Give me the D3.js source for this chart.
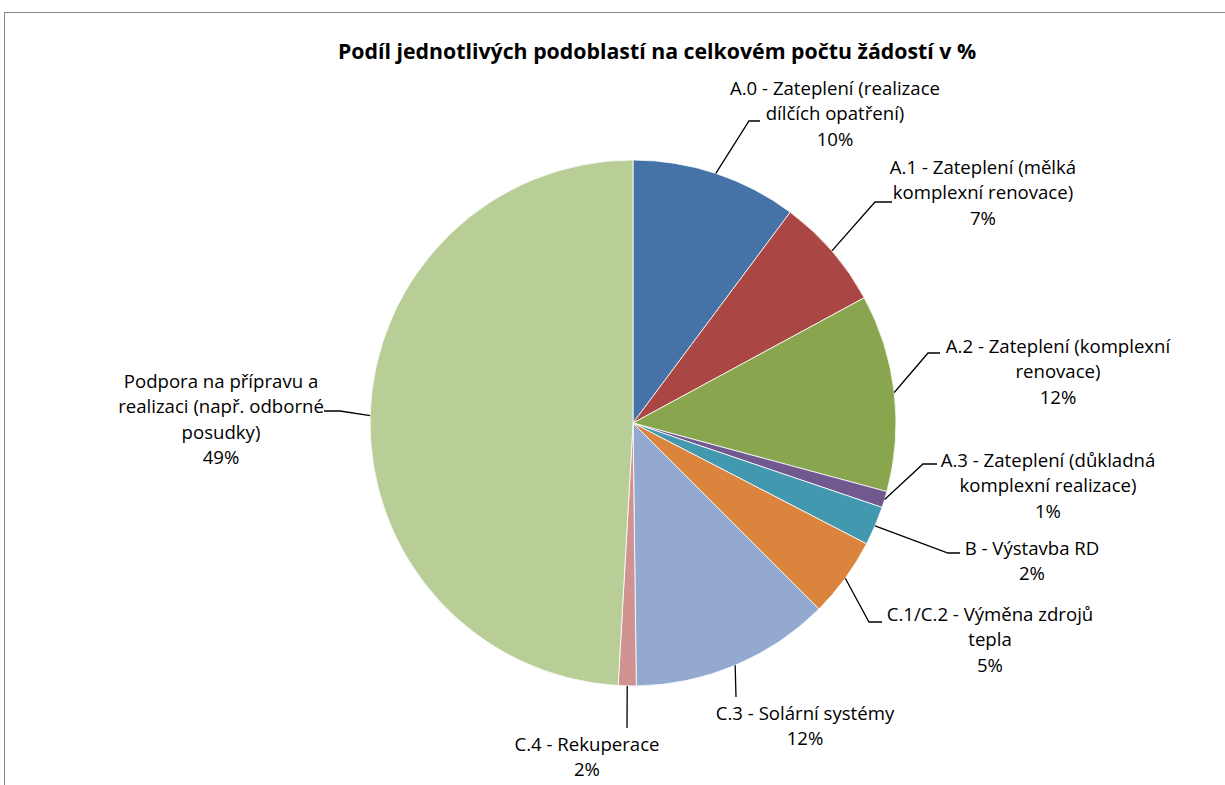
<!DOCTYPE html>
<html lang="cs">
<head>
<meta charset="UTF-8">
<script src="https://cdn.jsdelivr.net/npm/d3@7"></script>
<title>Podíl podoblastí</title>
<style>
  body { margin: 0; background: #fff; }
  text { font-family: "Open Sans", Lato, sans-serif; fill: #000; }
</style>
</head>
<body>
<div id="chart"></div>
<script>
// data
const categories = [
  "A.0 - Zateplení (realizace\ndílčích opatření)",
  "A.1 - Zateplení (mělká\nkomplexní renovace)",
  "A.2 - Zateplení (komplexní\nrenovace)",
  "A.3 - Zateplení (důkladná\nkomplexní realizace)",
  "B - Výstavba RD",
  "C.1/C.2 - Výměna zdrojů\ntepla",
  "C.3 - Solární systémy",
  "C.4 - Rekuperace",
  "Podpora na přípravu a\nrealizaci (např. odborné\nposudky)"
];
const shares = [10.2, 6.9, 12.1, 1.0, 2.4, 4.9, 12.3, 1.1, 49.1];
const pctLabels = ["10%", "7%", "12%", "1%", "2%", "5%", "12%", "2%", "49%"];
const colors = ["#4572A7", "#AA4643", "#89A54E", "#71588F", "#4198AF",
                "#DB843D", "#93A9CF", "#D19392", "#B9CD96"];
const title = "Podíl jednotlivých podoblastí na celkovém počtu žádostí v %";

// label placement (layout only)
const labelLayout = [
  {x: 835,  y: 88,  bend: [749, 121], end: [760, 121]},
  {x: 983,  y: 167, bend: [875, 202], end: [892, 202]},
  {x: 1058, y: 346, bend: [928, 353], end: [940, 353]},
  {x: 1048, y: 460, bend: [923, 464], end: [937, 464]},
  {x: 1032, y: 548, bend: [948, 553], end: [960, 553]},
  {x: 990,  y: 614, bend: [869, 622], end: [882, 622]},
  {x: 805,  y: 713, bend: [736, 697], end: [736, 697]},
  {x: 587,  y: 744, bend: [627, 728], end: [627, 728]},
  {x: 221,  y: 381, bend: [340, 411], end: [324, 411]}
];

const width = 1225, height = 785;
const cx = 633, cy = 423, radius = 263;
const lineH = 25.6;

const svg = d3.select("#chart").append("svg")
  .attr("width", width).attr("height", height);

svg.append("rect")
  .attr("x", 4.5).attr("y", 12.5)
  .attr("width", 1240).attr("height", 800)
  .attr("fill", "#fff").attr("stroke", "#868686").attr("stroke-width", 1);

svg.append("text")
  .attr("x", 657).attr("y", 59)
  .attr("text-anchor", "middle")
  .attr("font-size", 21.3).attr("font-weight", "bold")
  .text(title);

const rows = categories.map((c, i) => ({name: c, value: shares[i], pct: pctLabels[i], color: colors[i], lay: labelLayout[i]}));

const pie = d3.pie().sort(null).value(d => d.value);
const arcs = pie(rows);
const arc = d3.arc().innerRadius(0).outerRadius(radius);
const edge = d3.arc().innerRadius(radius).outerRadius(radius);

const g = svg.append("g").attr("transform", `translate(${cx},${cy})`);

g.selectAll("path.slice")
  .data(arcs)
  .enter().append("path")
  .attr("class", "slice")
  .attr("d", arc)
  .attr("fill", d => d.data.color)
  .attr("stroke", "#fff").attr("stroke-width", 0.8);

// leader lines
svg.selectAll("path.leader")
  .data(arcs)
  .enter().append("path")
  .attr("class", "leader")
  .attr("fill", "none").attr("stroke", "#000").attr("stroke-width", 1.3)
  .attr("d", d => {
    const p = edge.centroid(d);
    const L = d.data.lay;
    return d3.line()([[cx + p[0], cy + p[1]], L.bend, L.end]);
  });

// labels
const labels = svg.selectAll("text.lbl")
  .data(arcs)
  .enter().append("text")
  .attr("class", "lbl")
  .attr("text-anchor", "middle")
  .attr("font-size", 18.6);

labels.each(function(d) {
  const lines = d.data.name.split("\n").concat([d.data.pct]);
  const L = d.data.lay;
  d3.select(this).selectAll("tspan")
    .data(lines)
    .enter().append("tspan")
    .attr("x", L.x)
    .attr("y", (s, k) => L.y + k * lineH)
    .attr("dy", "0.35em")
    .text(s => s);
});
</script>
</body>
</html>
